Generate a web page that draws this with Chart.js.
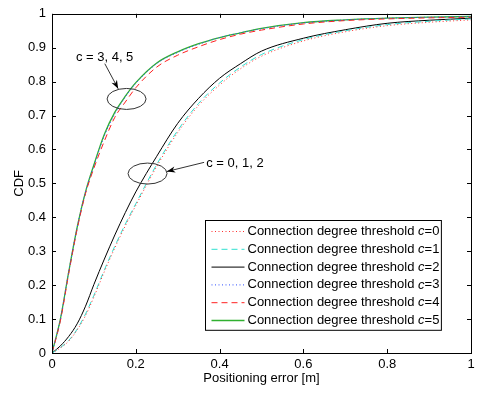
<!DOCTYPE html>
<html>
<head>
<meta charset="utf-8">
<script src="https://cdn.jsdelivr.net/npm/chart.js@4"></script>
<style>
  html, body { margin: 0; padding: 0; background: #fff; }
  #wrap { width: 485px; height: 394px; }
</style>
</head>
<body>
<div id="wrap"><canvas id="cdfChart" width="485" height="394"></canvas></div>
<script>
// positioning error [m]
var errors = [0, 0.02, 0.04, 0.06, 0.08, 0.1, 0.125, 0.15, 0.175, 0.2, 0.25, 0.3, 0.35, 0.4, 0.45, 0.5, 0.6, 0.7, 0.8, 0.9, 1.0];

// CDF per connection degree threshold
var cdfC0 = [0, 0.015, 0.035, 0.068, 0.11, 0.165, 0.24, 0.31, 0.375, 0.435, 0.55, 0.65, 0.73, 0.79, 0.838, 0.875, 0.92, 0.947, 0.965, 0.975, 0.982];
var cdfC1 = [0, 0.016, 0.037, 0.07, 0.115, 0.17, 0.245, 0.315, 0.38, 0.44, 0.556, 0.656, 0.736, 0.796, 0.843, 0.88, 0.924, 0.95, 0.968, 0.978, 0.985];
var cdfC2 = [0, 0.021, 0.049, 0.086, 0.138, 0.202, 0.277, 0.348, 0.414, 0.475, 0.58, 0.677, 0.751, 0.81, 0.853, 0.89, 0.928, 0.953, 0.972, 0.981, 0.987];
var cdfC3 = [0, 0.1, 0.24, 0.37, 0.475, 0.552, 0.64, 0.705, 0.755, 0.795, 0.853, 0.886, 0.91, 0.93, 0.944, 0.956, 0.973, 0.982, 0.987, 0.99, 0.992];
var cdfC4 = [0, 0.095, 0.235, 0.365, 0.47, 0.545, 0.625, 0.695, 0.74, 0.782, 0.843, 0.878, 0.903, 0.924, 0.94, 0.952, 0.97, 0.98, 0.985, 0.988, 0.99];
var cdfC5 = [0, 0.1, 0.24, 0.37, 0.475, 0.555, 0.645, 0.71, 0.757, 0.797, 0.855, 0.888, 0.912, 0.93, 0.944, 0.957, 0.974, 0.982, 0.987, 0.99, 0.992];

var thresholds = ['0', '1', '2', '3', '4', '5'];
var xTickLabels = ['0', '0.2', '0.4', '0.6', '0.8', '1'];
var yTickLabels = ['0', '0.1', '0.2', '0.3', '0.4', '0.5', '0.6', '0.7', '0.8', '0.9', '1'];

var FONT = '"Liberation Sans", Arial, sans-serif';
var FS = 13;

function pts(ys) {
    return errors.map(function (x, i) { return { x: x, y: ys[i] }; });
}

function series(ys, color, dash, width) {
    return {
        data: pts(ys),
        borderColor: color,
        borderWidth: width || 1,
        borderDash: dash,
        pointRadius: 0,
        fill: false,
        cubicInterpolationMode: 'monotone'
    };
}

var datasets = [
    series(cdfC0, '#ff3030', [1, 2.5]),
    series(cdfC1, '#30e0d0', [6, 4]),
    series(cdfC2, '#000000', []),
    series(cdfC3, '#3050ff', [1, 2.5]),
    series(cdfC4, '#ff2020', [6, 4]),
    series(cdfC5, '#30b030', [], 1.3)
];

// annotations in data coordinates
var notes = [
    { text: 'c = 3, 4, 5', tx: 0.057, ty: 0.871, ex: 0.178, ey: 0.749, from: [0.126, 0.853], to: [0.158, 0.779] },
    { text: 'c = 0, 1, 2', tx: 0.368, ty: 0.559, ex: 0.228, ey: 0.529, from: [0.363, 0.562], to: [0.274, 0.535] }
];

var matlabLook = {
    id: 'matlabLook',
    afterDraw: function (chart) {
        var ctx = chart.ctx, a = chart.chartArea;
        var xs = chart.scales.x, ys = chart.scales.y;
        ctx.save();

        // box + inward ticks
        ctx.strokeStyle = '#000';
        ctx.lineWidth = 1;
        ctx.strokeRect(Math.round(a.left) + 0.5, Math.round(a.top) + 0.5, Math.round(a.right - a.left), Math.round(a.bottom - a.top));
        ctx.beginPath();
        xs.ticks.forEach(function (t) {
            var px = Math.round(xs.getPixelForValue(t.value)) + 0.5;
            ctx.moveTo(px, a.bottom); ctx.lineTo(px, a.bottom - 4);
            ctx.moveTo(px, a.top); ctx.lineTo(px, a.top + 4);
        });
        ys.ticks.forEach(function (t) {
            var py = Math.round(ys.getPixelForValue(t.value)) + 0.5;
            ctx.moveTo(a.left, py); ctx.lineTo(a.left + 4, py);
            ctx.moveTo(a.right, py); ctx.lineTo(a.right - 4, py);
        });
        ctx.stroke();

        // annotations
        ctx.font = FS + 'px ' + FONT;
        ctx.fillStyle = '#000';
        ctx.textBaseline = 'middle';
        notes.forEach(function (n) {
            ctx.fillText(n.text, xs.getPixelForValue(n.tx), ys.getPixelForValue(n.ty));
            ctx.strokeStyle = '#333';
            ctx.beginPath();
            ctx.ellipse(xs.getPixelForValue(n.ex), ys.getPixelForValue(n.ey), 19.5, 10.5, 0, 0, Math.PI * 2);
            ctx.stroke();
            var x1 = xs.getPixelForValue(n.from[0]), y1 = ys.getPixelForValue(n.from[1]);
            var x2 = xs.getPixelForValue(n.to[0]), y2 = ys.getPixelForValue(n.to[1]);
            var ang = Math.atan2(y2 - y1, x2 - x1);
            ctx.beginPath();
            ctx.moveTo(x1, y1); ctx.lineTo(x2, y2);
            ctx.stroke();
            ctx.beginPath();
            ctx.moveTo(x2, y2);
            ctx.lineTo(x2 - 9 * Math.cos(ang - 0.35), y2 - 9 * Math.sin(ang - 0.35));
            ctx.lineTo(x2 - 6 * Math.cos(ang), y2 - 6 * Math.sin(ang));
            ctx.lineTo(x2 - 9 * Math.cos(ang + 0.35), y2 - 9 * Math.sin(ang + 0.35));
            ctx.closePath();
            ctx.fill();
        });

        // legend box (bottom right)
        var prefix = 'Connection degree threshold ';
        ctx.font = FS + 'px ' + FONT;
        var wPre = ctx.measureText(prefix).width;
        ctx.font = 'italic ' + FS + 'px ' + FONT;
        var wC = ctx.measureText('c').width;
        ctx.font = FS + 'px ' + FONT;
        var wEnd = ctx.measureText('=0').width;
        var rowH = 17.8;
        var boxW = 42 + wPre + wC + wEnd + 2;
        var boxH = rowH * thresholds.length + 3;
        var bx = Math.round(a.right - 30 - boxW) + 0.5;
        var by = Math.round(a.bottom - 23 - boxH) + 0.5;
        ctx.fillStyle = '#fff';
        ctx.fillRect(bx, by, boxW, boxH);
        ctx.strokeStyle = '#000';
        ctx.setLineDash([]);
        ctx.strokeRect(bx, by, boxW, boxH);
        thresholds.forEach(function (c, i) {
            var ds = chart.data.datasets[i];
            var cy = by + 11 + i * rowH;
            ctx.strokeStyle = ds.borderColor;
            ctx.lineWidth = ds.borderWidth;
            ctx.setLineDash(ds.borderDash || []);
            ctx.beginPath();
            ctx.moveTo(bx + 6, cy); ctx.lineTo(bx + 39, cy);
            ctx.stroke();
            ctx.setLineDash([]);
            ctx.fillStyle = '#000';
            var tx = bx + 42;
            ctx.font = FS + 'px ' + FONT;
            ctx.fillText(prefix, tx, cy);
            ctx.font = 'italic ' + FS + 'px ' + FONT;
            ctx.fillText('c', tx + wPre, cy);
            ctx.font = FS + 'px ' + FONT;
            ctx.fillText('=' + c, tx + wPre + wC, cy);
        });
        ctx.restore();
    }
};

var ctx = document.getElementById('cdfChart').getContext('2d');
new Chart(ctx, {
    type: 'line',
    data: { datasets: datasets },
    options: {
        responsive: false,
        animation: false,
        layout: { padding: { left: 0, right: 14, top: 13, bottom: 0 } },
        plugins: {
            legend: { display: false },
            tooltip: { enabled: false }
        },
        scales: {
            x: {
                type: 'linear',
                min: 0, max: 1,
                grid: { display: false, drawTicks: false },
                border: { display: false },
                ticks: {
                    stepSize: 0.2,
                    padding: 4,
                    color: '#000',
                    font: { family: FONT, size: FS },
                    maxRotation: 0,
                    callback: function (v, i) { return xTickLabels[i]; }
                },
                title: {
                    display: true,
                    text: 'Positioning error [m]',
                    color: '#000',
                    font: { family: FONT, size: FS },
                    padding: { top: 0, bottom: 8 }
                },
                afterFit: function (s) { s.height = 41; }
            },
            y: {
                min: 0, max: 1,
                grid: { display: false, drawTicks: false },
                border: { display: false },
                ticks: {
                    stepSize: 0.1,
                    padding: 6,
                    color: '#000',
                    font: { family: FONT, size: FS },
                    callback: function (v, i) { return yTickLabels[i]; }
                },
                title: {
                    display: true,
                    text: 'CDF',
                    color: '#000',
                    font: { family: FONT, size: FS },
                    padding: { top: 12, bottom: 4 }
                },
                afterFit: function (s) { s.width = 52; }
            }
        }
    },
    plugins: [matlabLook]
});
</script>
</body>
</html>
